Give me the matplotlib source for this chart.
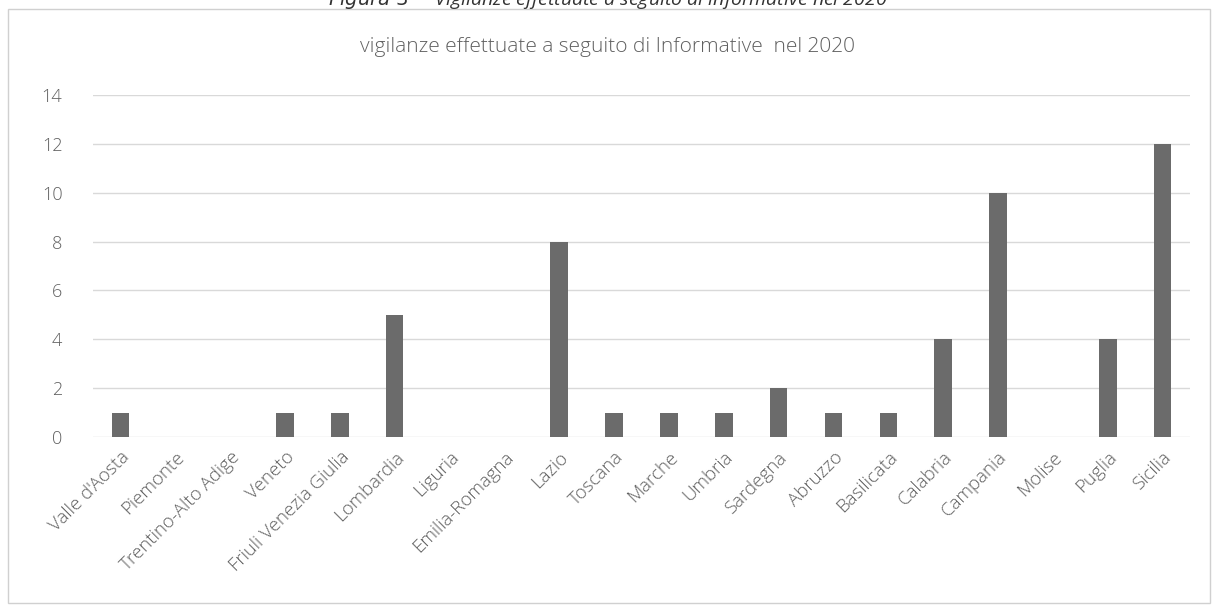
import numpy as np
import matplotlib.pyplot as plt
from matplotlib.patches import Rectangle

# vigilanze per regione, anno 2020
regioni = ["Valle d'Aosta", "Piemonte", "Trentino-Alto Adige", "Veneto",
           "Friuli Venezia Giulia", "Lombardia", "Liguria", "Emilia-Romagna",
           "Lazio", "Toscana", "Marche", "Umbria", "Sardegna", "Abruzzo",
           "Basilicata", "Calabria", "Campania", "Molise", "Puglia", "Sicilia"]
vigilanze = [1, 0, 0, 1, 1, 5, 0, 0, 8, 1, 1, 1, 2, 1, 1, 4, 10, 0, 4, 12]
y_ticks = [0, 2, 4, 6, 8, 10, 12, 14]

plt.rcParams['font.family'] = ['Open Sans', 'DejaVu Sans']
testo = '#606060'

fig = plt.figure(figsize=(12.15, 6.15), dpi=100)

# cornice del grafico
fig.patches.append(Rectangle((8 / 1215, 12 / 615), 1202 / 1215, 594 / 615,
                             transform=fig.transFigure, fill=False,
                             edgecolor='#d0d0d0', linewidth=1.0))

# didascalia della figura, in alto
fig.text(0.5, 1 - 5 / 615,
         r"$\bf{\it{Figura\ 3}}$ $\it{-}$ Vigilanze effettuate a seguito di informative nel 2020",
         ha='center', va='baseline', fontsize=14, style='italic', color='#333333')

# titolo del grafico
fig.text(0.5, 1 - 47 / 615, 'vigilanze effettuate a seguito di Informative  nel 2020',
         ha='center', va='center', fontsize=15, color=testo, fontweight='light')

ax = fig.add_axes([93 / 1215, 1 - 437 / 615, 1097 / 1215, (437 - 95) / 615])
x = np.arange(len(regioni))
ax.bar(x, vigilanze, width=0.32, color='#6b6b6b', zorder=3)

ax.set_xlim(-0.5, len(regioni) - 0.5)
ax.set_ylim(0, 14)
ax.set_yticks(y_ticks)
ax.set_xticks(x)
ax.set_xticklabels(regioni, rotation=45, ha='right', rotation_mode='anchor')
ax.tick_params(axis='both', length=0, colors=testo)
ax.tick_params(axis='y', pad=22, labelsize=13)
ax.tick_params(axis='x', pad=8, labelsize=13.5)
for lab in ax.get_xticklabels() + ax.get_yticklabels():
    lab.set_fontweight('light')
ax.grid(axis='y', color='#d9d9d9', linewidth=1.0, zorder=0)
for s in ax.spines.values():
    s.set_visible(False)

fig.savefig('out.png', dpi=100)
